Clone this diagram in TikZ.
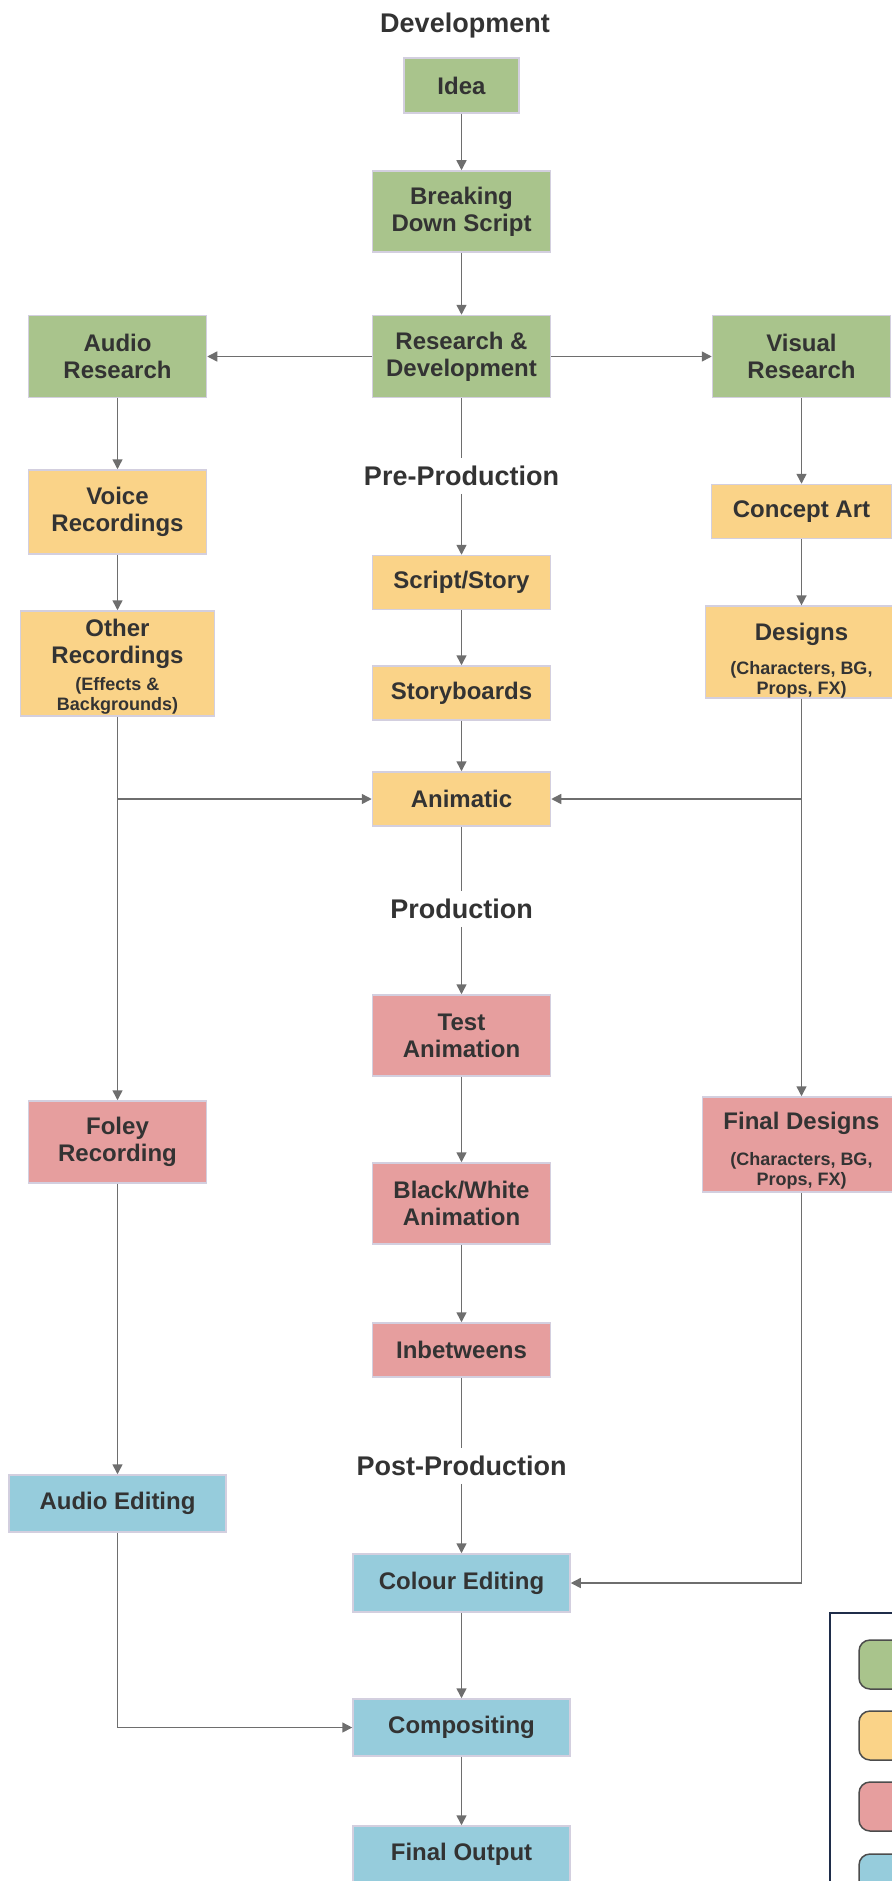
\documentclass[tikz,border=0pt]{standalone}
\usepackage{fontspec}
\setmainfont{Liberation Sans}
\usepackage{xcolor}
\usepackage{tikz}
\usetikzlibrary{arrows.meta}

\definecolor{devgreen}{HTML}{A9C48C}
\definecolor{preyellow}{HTML}{FAD388}
\definecolor{prodred}{HTML}{E69E9E}
\definecolor{postblue}{HTML}{96CCDC}
\definecolor{boxline}{HTML}{D3CFDF}
\definecolor{flowline}{HTML}{6E6E6E}
\definecolor{labeltext}{HTML}{333333}
\definecolor{legendline}{HTML}{1F2D4A}

\newcommand{\smalltxt}[1]{{\fontsize{18}{20}\selectfont #1}}

\begin{document}
\begin{tikzpicture}[x=1pt, y=-1pt,
    box/.style={draw=boxline, line width=1.5pt, text=labeltext,
        font=\bfseries\fontsize{24}{27}\selectfont, align=center,
        inner sep=0pt, minimum width=178pt, minimum height=54pt},
    phaselabel/.style={text=labeltext, font=\bfseries\fontsize{27}{30}\selectfont,
        text height=19.5pt, text depth=0pt, inner sep=8pt},
    connline/.style={draw=flowline, line width=1.5pt},
    conn/.style={connline, -{Triangle[length=10pt,width=10pt]}}]
    \useasboundingbox (0,0) rectangle (891,1881);

    \node[phaselabel] (devlbl) at (465,23) {Development};
    \node[box, fill=devgreen, minimum width=115pt, minimum height=55pt] (idea) at (461.5,85.5) {Idea};
    \node[box, fill=devgreen, minimum height=81pt] (bds) at (461.5,211.5) {Breaking\\Down Script};
    \node[box, fill=devgreen, minimum height=82pt] (rnd) at (461.5,356.5) {Research \&\\Development};
    \node[box, fill=devgreen, minimum height=82pt] (audres) at (117.5,356.5) {Audio\\Research};
    \node[box, fill=devgreen, minimum height=82pt] (visres) at (801.5,356.5) {Visual\\Research};

    \node[phaselabel] (prelbl) at (461.5,476) {Pre-Production};
    \node[box, fill=preyellow, minimum height=84pt] (voice) at (117.5,512) {Voice\\Recordings};
    \node[box, fill=preyellow, minimum width=180pt] (concept) at (801.5,511.5) {Concept Art};
    \node[box, fill=preyellow] (script) at (461.5,582.5) {Script/Story};
    \node[box, fill=preyellow, minimum width=194pt, minimum height=105pt] (other) at (117.5,663.5)
        {\rule{0pt}{24pt}Other\\Recordings\\\smalltxt{(Effects \&}\\[-7pt]\smalltxt{Backgrounds)}};
    \node[box, fill=preyellow, minimum width=192pt, minimum height=88pt] (designs) at (801.5,652)
        {\rule{0pt}{34pt}Designs\\[7pt]\smalltxt{(Characters, BG,}\\[-7pt]\smalltxt{Props, FX)}};
    \node[box, fill=preyellow] (story) at (461.5,693) {Storyboards};
    \node[box, fill=preyellow] (animatic) at (461.5,799) {Animatic};

    \node[phaselabel] (prodlbl) at (461.5,909) {Production};
    \node[box, fill=prodred, minimum height=81pt] (test) at (461.5,1035.5) {Test\\Animation};
    \node[box, fill=prodred, minimum height=82pt] (foley) at (117.5,1142) {Foley\\Recording};
    \node[box, fill=prodred, minimum width=198pt, minimum height=95pt] (findes) at (801.5,1144.5)
        {\rule{0pt}{30pt}Final Designs\\[9pt]\smalltxt{(Characters, BG,}\\[-7pt]\smalltxt{Props, FX)}};
    \node[box, fill=prodred, minimum height=81pt] (bw) at (461.5,1203.5) {Black/White\\Animation};
    \node[box, fill=prodred] (inbet) at (461.5,1350) {Inbetweens};

    \node[phaselabel] (postlbl) at (461.5,1466) {Post-Production};
    \node[box, fill=postblue, minimum width=217pt, minimum height=57pt] (audedit) at (117.5,1503.5) {Audio Editing};
    \node[box, fill=postblue, minimum width=217pt, minimum height=58pt] (colour) at (461.5,1583) {Colour Editing};
    \node[box, fill=postblue, minimum width=217pt, minimum height=57pt] (comp) at (461.5,1727.5) {Compositing};
    \node[box, fill=postblue, minimum width=217pt, minimum height=57pt] (final) at (461.5,1854.5) {Final Output};

    \draw[conn] (idea) -- (bds);
    \draw[conn] (bds) -- (rnd);
    \draw[conn] (rnd) -- (audres);
    \draw[conn] (rnd) -- (visres);
    \draw[conn] (audres) -- (voice);
    \draw[conn] (voice) -- (other);
    \draw[connline] (rnd) -- (prelbl);
    \draw[conn] (prelbl) -- (script);
    \draw[conn] (visres) -- (concept);
    \draw[conn] (concept) -- (designs);
    \draw[conn] (script) -- (story);
    \draw[conn] (story) -- (animatic);
    \draw[conn] (other) |- (animatic);
    \draw[conn] (other) -- (foley);
    \draw[conn] (designs) |- (animatic);
    \draw[conn] (designs) -- (findes);
    \draw[connline] (animatic) -- (prodlbl);
    \draw[conn] (prodlbl) -- (test);
    \draw[conn] (test) -- (bw);
    \draw[conn] (bw) -- (inbet);
    \draw[connline] (inbet) -- (postlbl);
    \draw[conn] (postlbl) -- (colour);
    \draw[conn] (foley) -- (audedit);
    \draw[conn] (findes) |- (colour);
    \draw[conn] (audedit) |- (comp);
    \draw[conn] (colour) -- (comp);
    \draw[conn] (comp) -- (final);

    \draw[legendline, line width=2pt] (830,1613) rectangle (910,1900);
    \foreach \c/\y in {devgreen/1640, preyellow/1711, prodred/1782, postblue/1854}
        \draw[draw=black!70, line width=1.5pt, fill=\c, rounded corners=11pt] (859,\y) rectangle (930,\y+49);
\end{tikzpicture}
\end{document}
